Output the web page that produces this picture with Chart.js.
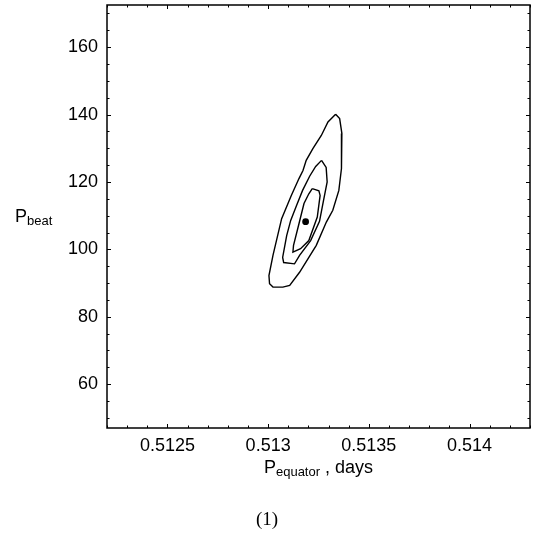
<!DOCTYPE html>
<html>
<head>
<meta charset="utf-8">
<script src="https://cdn.jsdelivr.net/npm/chart.js@4.4.1/dist/chart.umd.min.js"></script>
<style>
  html, body { margin: 0; padding: 0; background: #fff; }
  #wrap { position: relative; width: 534px; height: 535px; }
  #chart { position: absolute; left: 0; top: 0; }
  .lbl { position: absolute; font-family: "Liberation Sans", Arial, sans-serif; font-size: 18px; line-height: 18px; color: #000; white-space: nowrap; }
  .sub { font-size: 13px; position: relative; top: 3px; }
  #caption { position: absolute; left: 0; width: 534px; top: 509px; text-align: center; font-family: "Liberation Serif", "Times New Roman", serif; font-size: 19px; line-height: 19px; color: #000; }
</style>
</head>
<body>
<div id="wrap">
  <canvas id="chart" width="534" height="535"></canvas>
  <div class="lbl" style="left:15px; top:207px;">P<span class="sub">beat</span></div>
  <div class="lbl" style="left:107px; width:423px; top:458px; text-align:center;">P<span class="sub">equator</span> , days</div>
  <div id="caption">(1)</div>
</div>
<script>
// tick values and labels
const xTickValues = [0.5125, 0.513, 0.5135, 0.514];
const xTickLabels = ["0.5125", "0.513", "0.5135", "0.514"];
const yTickValues = [60, 80, 100, 120, 140, 160];
const yTickLabels = ["60", "80", "100", "120", "140", "160"];

// confidence contours (outer, middle, inner)
const outerX = [0.513335, 0.513355, 0.513366, 0.513365, 0.513363, 0.513351, 0.513321, 0.513289,
                0.513239, 0.513156, 0.513107, 0.513073, 0.513024, 0.513007, 0.513004, 0.513024,
                0.513067, 0.513115, 0.513153, 0.513173, 0.513189, 0.513222, 0.513264, 0.513297];
const outerY = [140.1, 138.8, 134.4, 126.4, 124.0, 117.5, 111.6, 108.1,
                101.2, 93.2, 89.3, 88.8, 88.8, 89.8, 92.2, 98.2,
                109.1, 116.0, 121.0, 123.4, 126.4, 129.9, 133.8, 137.8];

const midX = [0.513265, 0.513288, 0.513293, 0.513275, 0.513255, 0.513211, 0.513156, 0.513131,
              0.513077, 0.513072, 0.513092, 0.513112, 0.513141, 0.513171, 0.513206, 0.513236];
const midY = [126.4, 124.3, 120.0, 114.5, 108.3, 102.6, 98.2, 95.7,
              96.1, 97.6, 104.1, 108.6, 113.0, 117.5, 121.7, 124.6];

const innerX = [0.513219, 0.513252, 0.513258, 0.513244, 0.513202, 0.513161, 0.513123, 0.513126,
                0.513153, 0.513178, 0.513202];
const innerY = [118.0, 117.4, 116.0, 109.6, 102.6, 100.2, 99.2, 101.2,
                107.6, 113.6, 116.5];

// best fit point
const bestX = [0.513186];
const bestY = [108.2];

function closedPath(xs, ys) {
  const pts = xs.map((x, i) => ({ x: x, y: ys[i] }));
  pts.push({ x: xs[0], y: ys[0] });
  return pts;
}

function contourSet(xs, ys) {
  return {
    data: closedPath(xs, ys),
    showLine: true,
    borderColor: "#000",
    borderWidth: 1.4,
    pointRadius: 0,
    fill: false,
    tension: 0
  };
}

// frame and inward ticks on all four sides
const framePlugin = {
  id: "frame",
  afterDraw(chart) {
    const ctx = chart.ctx;
    const a = chart.chartArea;
    const xs = chart.scales.x;
    const ys = chart.scales.y;
    ctx.save();
    ctx.strokeStyle = "#000";
    ctx.lineWidth = 1;
    ctx.beginPath();
    // x minor every 0.0001
    for (let k = 5122; k <= 5143; k++) {
      const v = k / 10000;
      const px = Math.round(xs.getPixelForValue(v)) + 0.5;
      const len = (k % 5 === 0) ? 4 : 2.5;
      ctx.moveTo(px, a.bottom); ctx.lineTo(px, a.bottom - len);
      ctx.moveTo(px, a.top); ctx.lineTo(px, a.top + len);
    }
    // y minor every 5
    for (let v = 50; v <= 170; v += 5) {
      const py = Math.round(ys.getPixelForValue(v)) + 0.5;
      const len = (v % 20 === 0) ? 4 : 2.5;
      ctx.moveTo(a.left, py); ctx.lineTo(a.left + len, py);
      ctx.moveTo(a.right, py); ctx.lineTo(a.right - len, py);
    }
    ctx.stroke();
    ctx.lineWidth = 1.5;
    ctx.strokeRect(a.left, a.top, a.right - a.left, a.bottom - a.top);
    ctx.restore();
  }
};

const chart = new Chart(document.getElementById("chart"), {
  type: "scatter",
  data: {
    datasets: [
      contourSet(outerX, outerY),
      contourSet(midX, midY),
      contourSet(innerX, innerY),
      {
        data: bestX.map((x, i) => ({ x: x, y: bestY[i] })),
        pointRadius: 3.4,
        pointBackgroundColor: "#000",
        pointBorderWidth: 0,
        showLine: false
      }
    ]
  },
  options: {
    responsive: false,
    animation: false,
    layout: { padding: { top: 5, right: 4, left: 0, bottom: 0 } },
    plugins: { legend: { display: false }, tooltip: { enabled: false } },
    scales: {
      x: {
        type: "linear",
        min: 0.5122,
        max: 0.5143,
        afterBuildTicks: (s) => { s.ticks = xTickValues.map(v => ({ value: v })); },
        afterFit: (s) => { s.height = 107; s.paddingLeft = 0; s.paddingRight = 0; },
        grid: { display: false, drawTicks: false },
        border: { display: false },
        ticks: {
          padding: 7,
          color: "#000",
          font: { family: "'Liberation Sans', Arial, sans-serif", size: 18 },
          maxRotation: 0,
          callback: (v, i) => xTickLabels[i]
        }
      },
      y: {
        type: "linear",
        min: 47,
        max: 172.5,
        afterBuildTicks: (s) => { s.ticks = yTickValues.map(v => ({ value: v })); },
        afterFit: (s) => { s.width = 107; s.paddingTop = 0; s.paddingBottom = 0; },
        grid: { display: false, drawTicks: false },
        border: { display: false },
        ticks: {
          padding: 9,
          color: "#000",
          font: { family: "'Liberation Sans', Arial, sans-serif", size: 18 },
          callback: (v, i) => yTickLabels[i]
        }
      }
    }
  },
  plugins: [framePlugin]
});
</script>
</body>
</html>
